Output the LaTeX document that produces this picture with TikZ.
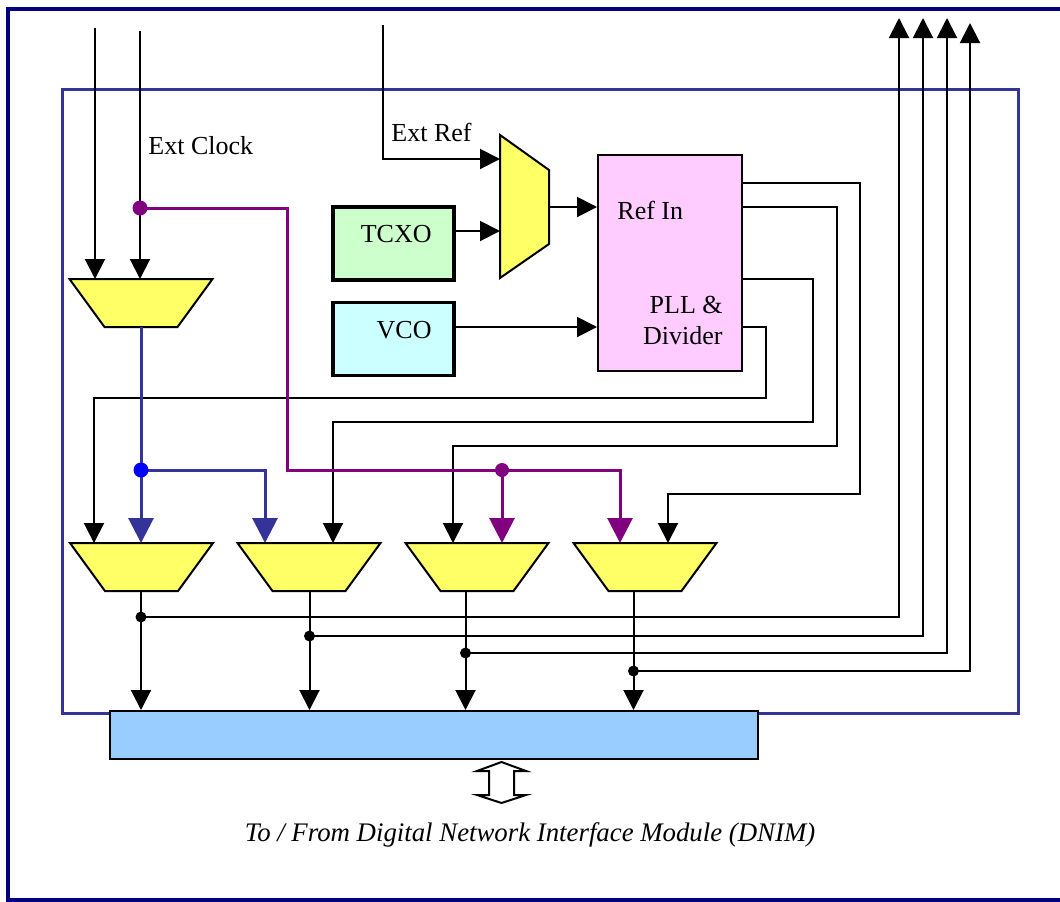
\documentclass[tikz,border=0pt]{standalone}
\usepackage{fontspec}
\setmainfont{Liberation Serif}
\usetikzlibrary{arrows.meta}
\definecolor{framenavy}{HTML}{000080}
\definecolor{frameblue}{HTML}{333399}
\definecolor{clkpurple}{HTML}{800080}
\definecolor{muxyellow}{HTML}{FFFF66}
\definecolor{pllpink}{HTML}{FFCCFF}
\definecolor{tcxogreen}{HTML}{CCFFCC}
\definecolor{vcocyan}{HTML}{CCFFFF}
\definecolor{busblue}{HTML}{99CCFF}
% downward mux: name, centre x, top y
\newcommand{\muxdown}[3]{\filldraw[muxfill] (#2-71.5,#3) -- (#2+71.5,#3) -- (#2+36.5,#3+48) -- (#2-36.5,#3+48) -- cycle;}

\begin{document}
\begin{tikzpicture}[x=0.5pt,y=-0.5pt,
  sig/.style={black, line width=1pt},
  arr/.style={-{Triangle[length=10pt,width=10pt]}},
  bigarr/.style={-{Triangle[length=12.5pt,width=12.5pt]}},
  txt/.style={font=\fontsize{13}{15.5}\selectfont, inner sep=0pt},
  muxfill/.style={fill=muxyellow, draw=black, line width=1pt},
  osc/.style={draw=black, line width=1.75pt, inner sep=0pt, minimum width=60.5pt, minimum height=36.5pt}]
\useasboundingbox (0,0) rectangle (1060,901);
\draw[framenavy, line width=2pt] (8,9) rectangle (1090,900);
\draw[frameblue, line width=1.5pt] (62,89) rectangle (1018,713);

% oscillators and pll
\node[osc, fill=tcxogreen] (tcxo) at (393.5,243.5) {};
\node[osc, fill=vcocyan] (vco) at (393.5,339) {};
\node[txt, anchor=east] (tcxotxt) at (432,234) {TCXO};
\node[txt, anchor=east] (vcotxt) at (432,330) {VCO};
\node[draw, fill=pllpink, line width=1pt, minimum width=72pt, minimum height=108pt, inner sep=0pt] (pll) at (670,263) {};
\node[txt, anchor=west] (refin) at (617,210) {Ref In};
\node[txt, anchor=east, align=right] (plldiv) at (723,320) {PLL \&\\Divider};

% reference mux
\filldraw[muxfill] (500,135) -- (549,170) -- (549,244) -- (500,278) -- cycle;
\coordinate (rmin1) at (500,159);
\coordinate (rmin2) at (500,231);
\coordinate (rmout) at (549,207);
\coordinate (eref) at (383,25);
\node[txt, anchor=west] (ereftxt) at (391,132) {Ext Ref};
\draw[sig,arr] (eref) |- (rmin1);
\draw[sig,arr] (tcxo.east |- rmin2) -- (rmin2);
\draw[sig,arr] (rmout) -- (rmout -| pll.west);
\coordinate (po1) at (742,183);
\coordinate (po2) at (742,207);
\coordinate (po3) at (742,279);
\coordinate (po4) at (742,327);
\draw[sig,arr] (vco.east |- po4) -- (po4 -| pll.west);

% clock mux
\muxdown{mt}{141}{279}
\coordinate (mt) at (141,327);
\coordinate (clka) at (95,28);
\coordinate (clkb) at (140,31);
\coordinate (mta) at (95,279);
\coordinate (mtb) at (140,279);
\node[txt, anchor=west] (clktxt) at (148,146) {Ext Clock};
\draw[sig,arr] (clka) -- (mta);
\draw[sig,arr] (clkb) -- (mtb);

% output muxes
\muxdown{m1}{141.5}{543}
\muxdown{m2}{309}{543}
\muxdown{m3}{477}{543}
\muxdown{m4}{645}{543}
\coordinate (m1a) at (94,543);
\coordinate (m1b) at (141,543);
\coordinate (m2a) at (265,543);
\coordinate (m2b) at (333,543);
\coordinate (m3a) at (453,543);
\coordinate (m3b) at (502,543);
\coordinate (m4a) at (620,543);
\coordinate (m4b) at (668,543);

\draw[sig,arr] (po1) -| (860,494) -| (m4b);
\draw[sig,arr] (po2) -| (837,446) -| (m3a);
\draw[sig,arr] (po3) -| (813,422) -| (m2b);
\draw[sig,arr] (po4) -| (766,398) -| (m1a);

% ext clock tap (purple)
\coordinate (ptap) at (140,208);
\coordinate (ptap2) at (502,470);
\draw[clkpurple, line width=1.5pt, bigarr] (ptap) -| (287,470) -| (m4a);
\draw[clkpurple, line width=1.5pt, bigarr] (ptap2) -- (m3b);
\fill[clkpurple] (ptap) circle (7.5);
\fill[clkpurple] (ptap2) circle (7);

% selected clock (blue)
\coordinate (btap) at (141,470);
\draw[frameblue, line width=1.5pt, bigarr] (mt) -- (m1b);
\draw[frameblue, line width=1.5pt, bigarr] (btap) -| (m2a);
\fill[blue] (btap) circle (7.5);

% bus interface
\node[draw, fill=busblue, line width=1pt, minimum width=324pt, minimum height=24pt, inner sep=0pt] (bus) at (434,735) {};
\coordinate (o1) at (141,591);
\coordinate (o2) at (309.5,591);
\coordinate (o3) at (465.5,591);
\coordinate (o4) at (633.5,591);
\coordinate (j1) at (141,617);
\coordinate (j2) at (309.5,636);
\coordinate (j3) at (465.5,653);
\coordinate (j4) at (633.5,671);
\coordinate (up1) at (899,18);
\coordinate (up2) at (923,18);
\coordinate (up3) at (947,18);
\coordinate (up4) at (970,23);
\draw[sig,arr] (o1) -- (o1 |- bus.north);
\draw[sig,arr] (o2) -- (o2 |- bus.north);
\draw[sig,arr] (o3) -- (o3 |- bus.north);
\draw[sig,arr] (o4) -- (o4 |- bus.north);
\draw[sig,arr] (j1) -| (up1);
\draw[sig,arr] (j2) -| (up2);
\draw[sig,arr] (j3) -| (up3);
\draw[sig,arr] (j4) -| (up4);
\fill (j1) circle (5.5);
\fill (j2) circle (5.5);
\fill (j3) circle (5.5);
\fill (j4) circle (5.5);

% to / from dnim
\filldraw[fill=white, draw=black, line width=1pt] (501.5,762) -- (526,771) -- (514,771) -- (514,795) -- (526,795) -- (501.5,803) -- (477,795) -- (489,795) -- (489,771) -- (477,771) -- cycle;
\node[txt, font=\fontsize{13.4}{16}\selectfont\itshape] (dnim) at (530,835) {To / From Digital Network Interface Module (DNIM)};
\end{tikzpicture}
\end{document}
